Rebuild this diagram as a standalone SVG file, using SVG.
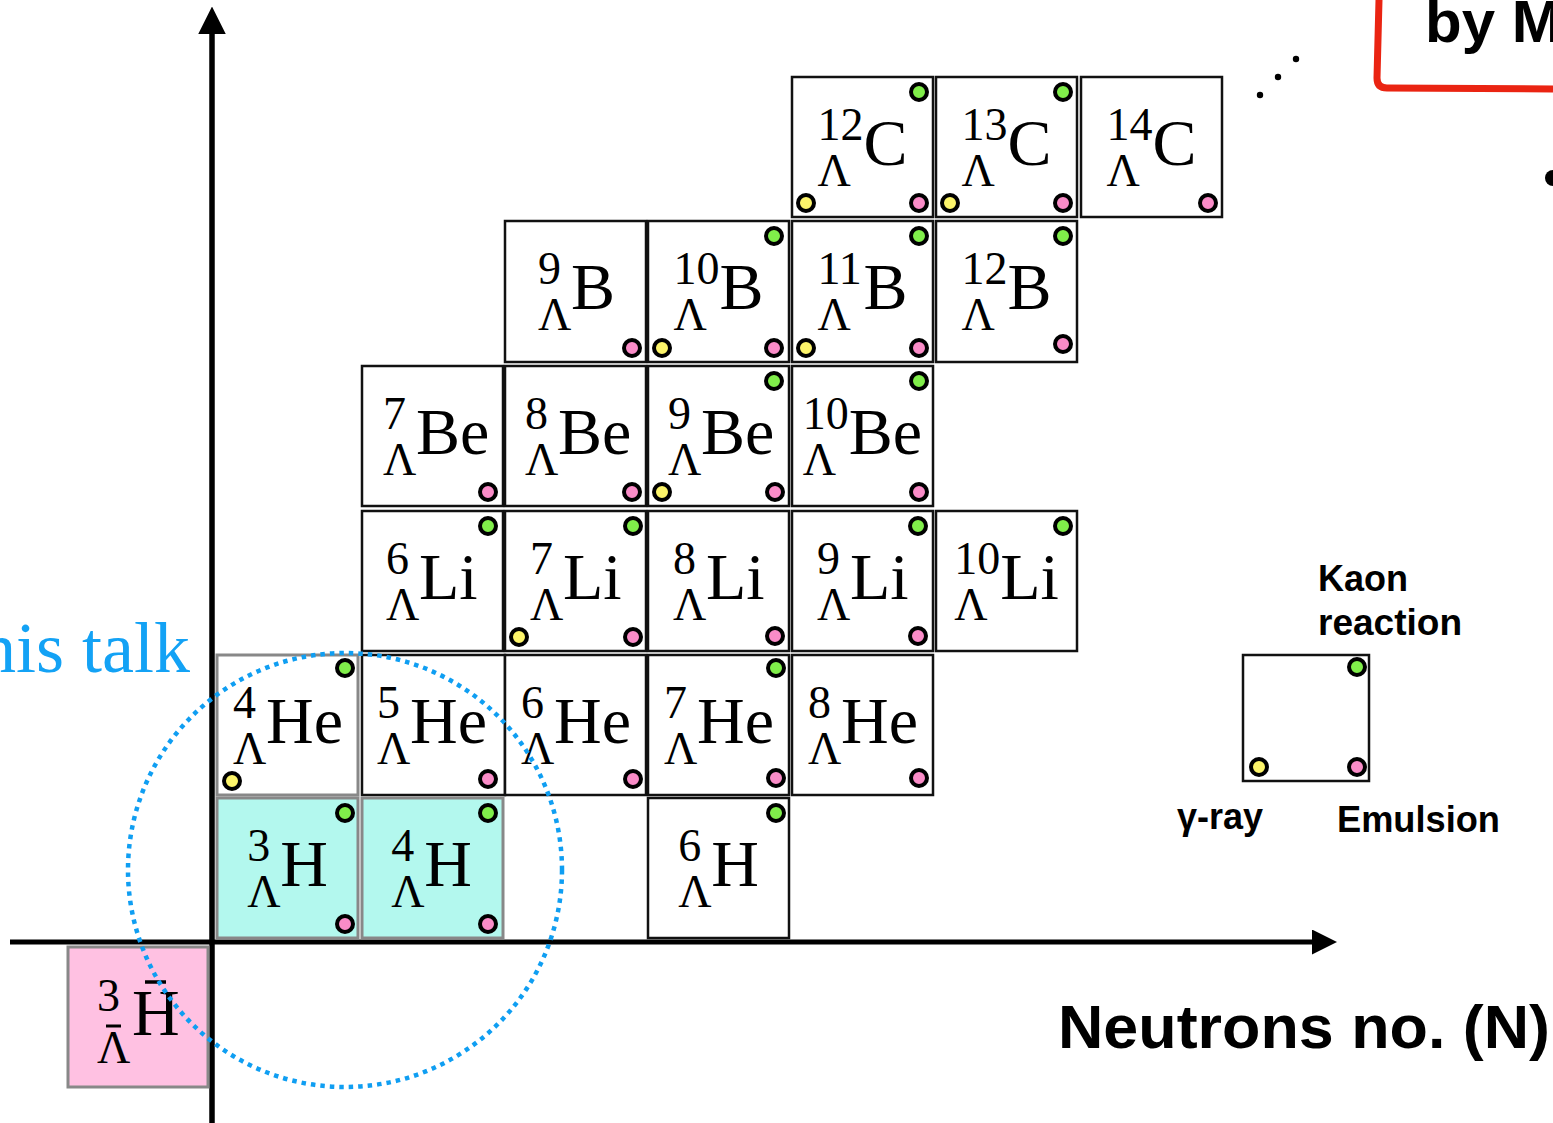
<svg xmlns="http://www.w3.org/2000/svg" width="1553" height="1123" viewBox="0 0 1553 1123">
<style>
.b{fill:#fff;stroke:#111;stroke-width:2.5}
.g{fill:#fff;stroke:#888;stroke-width:3}
.cy{fill:#b3f8ee;stroke:#888;stroke-width:3}
.pk{fill:#ffc1e2;stroke:#888;stroke-width:3}
.n{font-family:"Liberation Serif",serif;font-size:46px;fill:#000}
.e{font-family:"Liberation Serif",serif;font-size:66px;fill:#000}
.dg{fill:#80ee4a;stroke:#000;stroke-width:4}
.dy{fill:#fcf46a;stroke:#000;stroke-width:4}
.dp{fill:#fa8cc8;stroke:#000;stroke-width:4}
.s{font-family:"Liberation Sans",Arial,sans-serif;font-weight:bold;fill:#000}
</style>
<defs>
<marker id="ah" viewBox="0 0 10 10" refX="0" refY="5" markerWidth="5" markerHeight="5" orient="auto" markerUnits="strokeWidth">
<path d="M0,0 L10,5 L0,10 Z" fill="#000"/>
</marker>
</defs>
<rect width="1553" height="1123" fill="#fff"/>

<g id="connectors">
<line x1="212" y1="1123" x2="212" y2="34" stroke="#000" stroke-width="5.5" marker-end="url(#ah)"/>
<line x1="10" y1="942" x2="1312" y2="942" stroke="#000" stroke-width="5" marker-end="url(#ah)"/>
</g>

<!-- Row C -->
<g id="C12"><rect class="b" x="792" y="77" width="141" height="140"/><text class="n" x="817.5" y="140">12</text><text class="n" x="817.5" y="186">Λ</text><text class="e" x="863.5" y="165">C</text><circle class="dg" cx="919" cy="92" r="8"/><circle class="dy" cx="806" cy="203" r="8"/><circle class="dp" cx="919" cy="203" r="8"/></g>
<g id="C13"><rect class="b" x="936" y="77" width="141" height="140"/><text class="n" x="961.5" y="140">13</text><text class="n" x="961.5" y="186">Λ</text><text class="e" x="1007.5" y="165">C</text><circle class="dg" cx="1063" cy="92" r="8"/><circle class="dy" cx="950" cy="203" r="8"/><circle class="dp" cx="1063" cy="203" r="8"/></g>
<g id="C14"><rect class="b" x="1081" y="77" width="141" height="140"/><text class="n" x="1106.5" y="140">14</text><text class="n" x="1106.5" y="186">Λ</text><text class="e" x="1152.5" y="165">C</text><circle class="dp" cx="1208" cy="203" r="8"/></g>

<!-- Row B -->
<g id="B9"><rect class="b" x="505" y="221" width="141" height="141"/><text class="n" x="538" y="284">9</text><text class="n" x="538" y="330">Λ</text><text class="e" x="571" y="309">B</text><circle class="dp" cx="632" cy="348" r="8"/></g>
<g id="B10"><rect class="b" x="648" y="221" width="141" height="141"/><text class="n" x="673.5" y="284">10</text><text class="n" x="673.5" y="330">Λ</text><text class="e" x="719.5" y="309">B</text><circle class="dg" cx="774" cy="236" r="8"/><circle class="dy" cx="662" cy="348" r="8"/><circle class="dp" cx="774" cy="348" r="8"/></g>
<g id="B11"><rect class="b" x="792" y="221" width="141" height="141"/><text class="n" x="817.5" y="284">11</text><text class="n" x="817.5" y="330">Λ</text><text class="e" x="863.5" y="309">B</text><circle class="dg" cx="919" cy="236" r="8"/><circle class="dy" cx="806" cy="348" r="8"/><circle class="dp" cx="919" cy="348" r="8"/></g>
<g id="B12"><rect class="b" x="936" y="221" width="141" height="141"/><text class="n" x="961.5" y="284">12</text><text class="n" x="961.5" y="330">Λ</text><text class="e" x="1007.5" y="309">B</text><circle class="dg" cx="1063" cy="236" r="8"/><circle class="dp" cx="1063" cy="344" r="8"/></g>

<!-- Row Be -->
<g id="Be7"><rect class="b" x="362" y="366" width="141" height="140"/><text class="n" x="383" y="429">7</text><text class="n" x="383" y="475">Λ</text><text class="e" x="416" y="454">Be</text><circle class="dp" cx="488" cy="492" r="8"/></g>
<g id="Be8"><rect class="b" x="505" y="366" width="141" height="140"/><text class="n" x="525" y="429">8</text><text class="n" x="525" y="475">Λ</text><text class="e" x="558" y="454">Be</text><circle class="dp" cx="632" cy="492" r="8"/></g>
<g id="Be9"><rect class="b" x="648" y="366" width="141" height="140"/><text class="n" x="668" y="429">9</text><text class="n" x="668" y="475">Λ</text><text class="e" x="701" y="454">Be</text><circle class="dg" cx="774" cy="381" r="8"/><circle class="dy" cx="662" cy="492" r="8"/><circle class="dp" cx="775" cy="492" r="8"/></g>
<g id="Be10"><rect class="b" x="792" y="366" width="141" height="140"/><text class="n" x="802.8" y="429">10</text><text class="n" x="802.8" y="475">Λ</text><text class="e" x="848.8" y="454">Be</text><circle class="dg" cx="919" cy="381" r="8"/><circle class="dp" cx="919" cy="492" r="8"/></g>

<!-- Row Li -->
<g id="Li6"><rect class="b" x="362" y="511" width="141" height="140"/><text class="n" x="386" y="574">6</text><text class="n" x="386" y="620">Λ</text><text class="e" x="419" y="599">Li</text><circle class="dg" cx="488" cy="526" r="8"/></g>
<g id="Li7"><rect class="b" x="505" y="511" width="141" height="140"/><text class="n" x="530" y="574">7</text><text class="n" x="530" y="620">Λ</text><text class="e" x="563" y="599">Li</text><circle class="dg" cx="633" cy="526" r="8"/><circle class="dy" cx="519" cy="637" r="8"/><circle class="dp" cx="633" cy="637" r="8"/></g>
<g id="Li8"><rect class="b" x="648" y="511" width="141" height="140"/><text class="n" x="673" y="574">8</text><text class="n" x="673" y="620">Λ</text><text class="e" x="706" y="599">Li</text><circle class="dp" cx="775" cy="636" r="8"/></g>
<g id="Li9"><rect class="b" x="792" y="511" width="141" height="140"/><text class="n" x="817" y="574">9</text><text class="n" x="817" y="620">Λ</text><text class="e" x="850" y="599">Li</text><circle class="dg" cx="918" cy="526" r="8"/><circle class="dp" cx="918" cy="636" r="8"/></g>
<g id="Li10"><rect class="b" x="936" y="511" width="141" height="140"/><text class="n" x="954.2" y="574">10</text><text class="n" x="954.2" y="620">Λ</text><text class="e" x="1000.2" y="599">Li</text><circle class="dg" cx="1063" cy="526" r="8"/></g>

<!-- Row He -->
<g id="He4"><rect class="g" x="217" y="655" width="141" height="140"/><text class="n" x="233" y="718">4</text><text class="n" x="233" y="764">Λ</text><text class="e" x="266" y="743">He</text><circle class="dg" cx="345" cy="668" r="8"/><circle class="dy" cx="232" cy="781" r="8"/></g>
<g id="He5"><rect class="b" x="362" y="655" width="143" height="140"/><text class="n" x="377" y="718">5</text><text class="n" x="377" y="764">Λ</text><text class="e" x="410" y="743">He</text><circle class="dp" cx="488" cy="779" r="8"/></g>
<g id="He6"><rect class="b" x="505" y="655" width="141" height="140"/><text class="n" x="521" y="718">6</text><text class="n" x="521" y="764">Λ</text><text class="e" x="554" y="743">He</text><circle class="dp" cx="633" cy="779" r="8"/></g>
<g id="He7"><rect class="b" x="648" y="655" width="141" height="140"/><text class="n" x="664" y="718">7</text><text class="n" x="664" y="764">Λ</text><text class="e" x="697" y="743">He</text><circle class="dg" cx="776" cy="668" r="8"/><circle class="dp" cx="776" cy="778" r="8"/></g>
<g id="He8"><rect class="b" x="792" y="655" width="141" height="140"/><text class="n" x="808" y="718">8</text><text class="n" x="808" y="764">Λ</text><text class="e" x="841" y="743">He</text><circle class="dp" cx="919" cy="778" r="8"/></g>

<!-- Row H -->
<g id="H3"><rect class="cy" x="217" y="798" width="141" height="140"/><text class="n" x="247.2" y="861">3</text><text class="n" x="247.2" y="907">Λ</text><text class="e" x="280.2" y="886">H</text><circle class="dg" cx="345" cy="813" r="8"/><circle class="dp" cx="345" cy="924" r="8"/></g>
<g id="H4"><rect class="cy" x="362" y="798" width="141" height="140"/><text class="n" x="391.2" y="861">4</text><text class="n" x="391.2" y="907">Λ</text><text class="e" x="424.2" y="886">H</text><circle class="dg" cx="488" cy="813" r="8"/><circle class="dp" cx="488" cy="924" r="8"/></g>
<g id="H6"><rect class="b" x="648" y="798" width="141" height="140"/><text class="n" x="678.2" y="861">6</text><text class="n" x="678.2" y="907">Λ</text><text class="e" x="711.2" y="886">H</text><circle class="dg" cx="776" cy="813" r="8"/></g>

<!-- Anti-hypertriton -->
<g id="antiH3"><rect class="pk" x="68" y="947" width="140" height="140"/><text class="n" x="97" y="1011">3</text><text class="n" x="97" y="1063">Λ</text><line x1="106" y1="1026" x2="121" y2="1026" stroke="#000" stroke-width="3"/><text class="e" x="132" y="1035">H</text><line x1="145" y1="982" x2="166" y2="982" stroke="#000" stroke-width="3.5"/></g>

<!-- Legend -->
<g id="legend"><rect class="b" x="1243" y="655" width="126" height="126"/><circle class="dg" cx="1357" cy="667" r="8"/><circle class="dy" cx="1259" cy="767" r="8"/><circle class="dp" cx="1357" cy="767" r="8"/>
<text class="s" x="1318" y="591" font-size="36">Kaon</text>
<text class="s" x="1318" y="635" font-size="36" textLength="144" lengthAdjust="spacingAndGlyphs">reaction</text>
<text class="s" x="1177" y="829" font-size="36">γ-ray</text>
<text class="s" x="1337" y="832" font-size="36" textLength="163" lengthAdjust="spacingAndGlyphs">Emulsion</text>
</g>

<g id="labels">
<text class="s" x="1058" y="1048" font-size="62" textLength="492" lengthAdjust="spacingAndGlyphs">Neutrons no. (N)</text>
<text x="190" y="672" text-anchor="end" font-family="Liberation Serif, serif" font-size="72" fill="#13a2f5">his talk</text>
<text class="s" x="1425" y="42" font-size="60">by M</text>
<path d="M1379,0 L1377,78 Q1377,88 1387,88 L1553,89" fill="none" stroke="#ea2412" stroke-width="7" stroke-linejoin="round"/>
<circle cx="1260" cy="95" r="3.2" fill="#000"/>
<circle cx="1278" cy="77" r="3.2" fill="#000"/>
<circle cx="1296" cy="59" r="3.2" fill="#000"/>
<circle cx="1553" cy="178" r="8" fill="#000"/>
</g>

<g id="circle">
<circle cx="345" cy="870" r="217" fill="none" stroke="#0f9ef2" stroke-width="4.5" stroke-dasharray="4.5 5"/>
</g>
</svg>
